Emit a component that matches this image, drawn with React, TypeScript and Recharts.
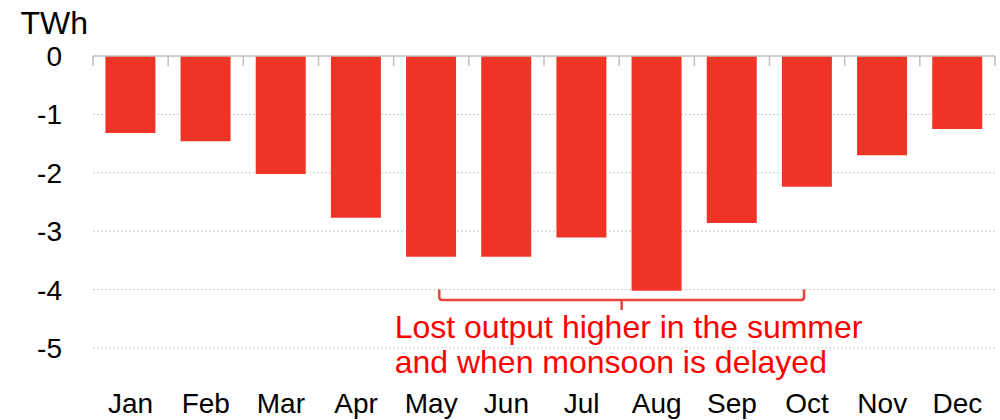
import React from 'react';
import { BarChart, Bar, XAxis, YAxis, CartesianGrid, ReferenceLine, Label } from 'recharts';

// monthly lost output, TWh
const months = ['Jan', 'Feb', 'Mar', 'Apr', 'May', 'Jun', 'Jul', 'Aug', 'Sep', 'Oct', 'Nov', 'Dec'];
const lostOutput = [-1.32, -1.46, -2.02, -2.77, -3.44, -3.44, -3.11, -4.02, -2.86, -2.24, -1.7, -1.25];
const yTicks = [-5, -4, -3, -2, -1, 0];
const gridValues = [-5, -4, -3, -2, -1];

// annotation: bracket spans May..Oct, note under it
const bracketFrom = 'May';
const bracketTo = 'Oct';
const bracketY = -4.18;
const noteY = -4.83;
const noteLines = ['Lost output higher in the summer', 'and when monsoon is delayed'];

const data = months.map((m, i) => ({ month: m, value: lostOutput[i] }));

const FONT = '"Liberation Sans", Arial, sans-serif';
const RED = '#EE3427';
const AXIS = '#bfbfbf';

// category axis drawn at zero, tick marks between the months
const ZeroAxis = (props: any) => {
  const { x1, x2, y1 } = props;
  const step = (x2 - x1) / months.length;
  let d = `M${x1},${y1} L${x2},${y1}`;
  for (let i = 0; i <= months.length; i++) {
    const x = x1 + i * step;
    d += ` M${x},${y1} L${x},${y1 + 10}`;
  }
  return <path d={d} fill="none" stroke={AXIS} strokeWidth={1.5} />;
};

const Bracket = (props: any) => {
  const { x1, y1, x2 } = props;
  const l = x1 + 8;
  const r = x2 - 3;
  const m = (l + r) / 2;
  const h = 10.5;
  const d =
    `M${l},${y1 - h} L${l},${y1 - 3} Q${l},${y1} ${l + 3},${y1} L${r - 3},${y1} Q${r},${y1} ${r},${y1 - 3} L${r},${y1 - h}` +
    ` M${m},${y1} L${m},${y1 + 10}`;
  return <path d={d} fill="none" stroke="#E8453A" strokeWidth={2.5} />;
};

const Note = (props: any) => {
  const { x1, y1 } = props;
  return (
    <text x={x1 + 1} y={y1} fill="#FF0000" fontSize={32} fontFamily={FONT}>
      {noteLines.map((l, i) => (
        <tspan key={i} x={x1 + 1} dy={i === 0 ? 0 : 35}>
          {l}
        </tspan>
      ))}
    </text>
  );
};

const App = () => {
  return (
    <div style={{ position: 'absolute', left: 0, top: 0, fontFamily: FONT }}>
      <BarChart
        width={1000}
        height={420}
        data={data}
        barCategoryGap="16.5%"
        margin={{ top: 56, right: 5, bottom: 0, left: 0 }}
      >
        <CartesianGrid
          vertical={false}
          horizontalValues={gridValues}
          stroke="#c8c8c8"
          strokeDasharray="2 2"
        />
        <XAxis
          dataKey="month"
          axisLine={false}
          tickLine={false}
          tickSize={0}
          tickMargin={10}
          height={37}
          interval={0}
          tick={{ fill: '#000', fontSize: 28, fontFamily: FONT }}
        />
        <YAxis
          domain={[-5.6, 0]}
          ticks={yTicks}
          width={93}
          axisLine={false}
          tickLine={false}
          tickSize={0}
          tickMargin={31}
          tick={{ fill: '#000', fontSize: 28, fontFamily: FONT }}
        >
          <Label
            content={() => (
              <text x={88} y={34} textAnchor="end" fill="#000" fontSize={32} fontFamily={FONT}>
                TWh
              </text>
            )}
          />
        </YAxis>
        <Bar dataKey="value" fill={RED} isAnimationActive={false} />

        <ReferenceLine y={0} shape={ZeroAxis} />

        <ReferenceLine
          segment={[{ x: bracketFrom, y: bracketY }, { x: bracketTo, y: bracketY }]}
          shape={Bracket}
        />
        <ReferenceLine
          position="start"
          segment={[{ x: bracketFrom, y: noteY }, { x: bracketFrom, y: noteY }]}
          shape={Note}
        />
      </BarChart>
    </div>
  );
};

export default App;
